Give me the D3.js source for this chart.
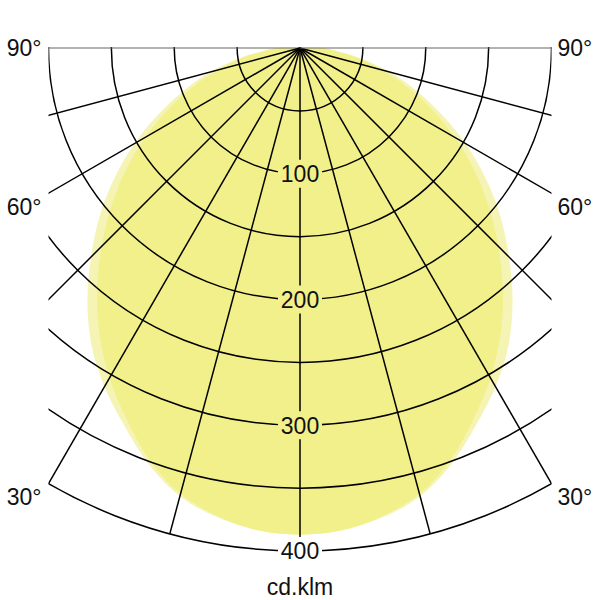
<!DOCTYPE html>
<html><head><meta charset="utf-8">
<script src="https://cdn.jsdelivr.net/npm/d3@7"></script>
<style>body{margin:0;background:#fff} svg{display:block} text{font-family:"Liberation Sans",Arial,sans-serif;fill:#111}</style>
</head><body><svg id="c" width="600" height="600"></svg>
<script>
// gamma angles (deg from nadir)
const angles = [0,5,10,15,20,25,30,35,40,45,50,55,60,65,70,75,80,85,90];
// luminous intensity, cd/klm
const planeOuter = [387,385,379,369,352,331,311,289,263,235,208,180,152,124,98,74,51,31,18];
const planeInner = [387,385,378,367,349,326,303,278,251,223,196,169,142,116,91,68,47,29,17];
const gridValues = [50,100,150,200,250,300,350,400];
const spokeAngles = [-90,-75,-60,-45,-30,-15,0,15,30,45,60,75,90];
const radialLabels = [100,200,300,400];
const angleLabels = [90,60,30];
const unitLabel = "cd.klm";

const cx = 300, cy = 48;
const rMax = 400;
const r = d3.scaleLinear().domain([0, rMax]).range([0, 503]);
const half = r(200); // grid half width

const svg = d3.select('#c');
svg.append('defs').append('clipPath').attr('id','clip')
  .append('rect').attr('x', -half).attr('y', -1).attr('width', 2*half).attr('height', 560);

const g = svg.append('g').attr('transform', `translate(${cx},${cy})`);

const rad = d => d * Math.PI / 180;
function curvePoints(vals){
  const pts = [[0,0]];
  for (let i = angles.length - 1; i >= 0; i--) pts.push([Math.PI + rad(angles[i]), r(vals[i])]);
  for (let i = 1; i < angles.length; i++) pts.push([Math.PI - rad(angles[i]), r(vals[i])]);
  pts.push([0,0]);
  return pts;
}
const radial = d3.lineRadial().angle(d => d[0]).radius(d => d[1]).curve(d3.curveCatmullRom);

g.append('path').attr('d', radial(curvePoints(planeOuter)) + 'Z').attr('fill', '#f5f4b4');
g.append('path').attr('d', radial(curvePoints(planeInner)) + 'Z').attr('fill', '#f1f08a');

const grid = g.append('g').attr('clip-path', 'url(#clip)');
grid.selectAll('circle.grid').data(gridValues).join('circle')
  .attr('class','grid').attr('r', d => r(d))
  .attr('fill', 'none').attr('stroke', '#000').attr('stroke-width', 1.5);
grid.selectAll('line.spoke').data(spokeAngles).join('line')
  .attr('class','spoke')
  .attr('x1', 0).attr('y1', 0)
  .attr('x2', d => r(rMax) * Math.sin(rad(d)))
  .attr('y2', d => r(rMax) * Math.cos(rad(d)))
  .attr('stroke', d => Math.abs(d) === 90 ? '#666' : '#000')
  .attr('stroke-width', d => Math.abs(d) === 90 ? 1.2 : 1.5);

// radial value labels
const lab = g.selectAll('g.rl').data(radialLabels).join('g').attr('class','rl')
  .attr('transform', d => `translate(0,${r(d)})`);
lab.append('rect').attr('x', -22).attr('y', -14).attr('width', 44).attr('height', 28)
  .attr('fill', d => d === 400 ? '#fff' : '#f1f08a');
lab.append('text').attr('text-anchor','middle').attr('dy','0.36em')
  .attr('font-size', 23).text(d => d);

// angle labels
angleLabels.forEach(a => {
  const y = half / Math.tan(rad(a)) + (a === 90 ? 0 : 13.5);
  g.append('text').attr('x', -half - 7).attr('y', y).attr('dy','0.36em')
    .attr('text-anchor','end').attr('font-size', 23).text(a + '°');
  g.append('text').attr('x', half + 6).attr('y', y).attr('dy','0.36em')
    .attr('text-anchor','start').attr('font-size', 23).text(a + '°');
});

svg.append('text').attr('x', cx).attr('y', 595).attr('text-anchor','middle')
  .attr('font-size', 23).text(unitLabel);
</script></body></html>
